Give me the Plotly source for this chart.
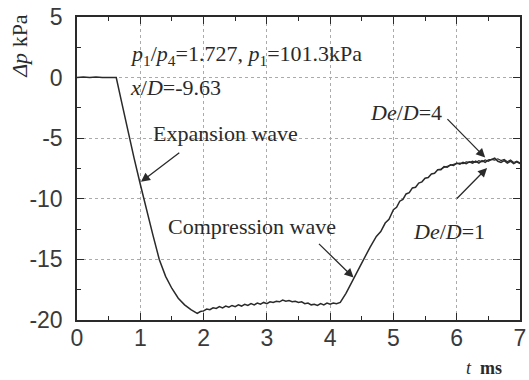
import plotly.graph_objects as go

# ---- data ----
t_ms = [0, 0.1, 0.2, 0.3, 0.4, 0.5, 0.62,
        0.7, 0.8, 0.9, 1.0, 1.1, 1.2, 1.3, 1.4, 1.5, 1.6, 1.7, 1.8, 1.9,
        1.95, 2.0, 2.05, 2.1, 2.15, 2.2, 2.25, 2.3, 2.35, 2.4, 2.45, 2.5, 2.55, 2.6, 2.65,
        2.7, 2.75, 2.8, 2.85, 2.9, 2.95, 3.0, 3.05, 3.1, 3.15, 3.2, 3.25, 3.3, 3.35, 3.4,
        3.45, 3.5, 3.55, 3.6, 3.65, 3.7, 3.75, 3.8, 3.85, 3.9, 3.95, 4.0, 4.05, 4.1, 4.16,
        4.25, 4.37, 4.45, 4.53, 4.63, 4.73, 4.8, 4.87, 4.93, 5.0, 5.05, 5.1, 5.15, 5.2,
        5.25, 5.3, 5.35, 5.4, 5.45, 5.5, 5.55, 5.6, 5.65, 5.7, 5.75, 5.8, 5.85, 5.9, 5.95,
        6.0, 6.05, 6.1, 6.15, 6.2, 6.25, 6.3, 6.35, 6.4, 6.45, 6.5, 6.55, 6.6, 6.65, 6.7,
        6.75, 6.8, 6.85, 6.9, 6.95, 7.0]
dp_De1 = [0, 0.05, 0, 0.05, 0, 0, 0,
          -1.9, -4.3, -6.6, -8.8, -11.0, -13.0, -15.0, -16.4, -17.4, -18.2, -18.75, -19.15, -19.45,
          -19.3, -19.25, -19.1, -19.15, -19.0, -19.05, -18.9, -19.0, -18.85, -18.95, -18.8, -18.9,
          -18.75, -18.85, -18.7, -18.8, -18.65, -18.75, -18.6, -18.7, -18.55, -18.65, -18.5,
          -18.55, -18.45, -18.5, -18.35, -18.45, -18.4, -18.5, -18.45, -18.55, -18.5, -18.65,
          -18.6, -18.75, -18.7, -18.8, -18.65, -18.75, -18.6, -18.7, -18.6, -18.65, -18.55,
          -17.8, -16.55, -15.8, -15.0, -14.0, -13.1, -12.7, -12.0, -11.7, -10.9, -10.7, -10.2,
          -10.05, -9.6, -9.5, -9.1, -9.05, -8.7, -8.6, -8.3, -8.25, -7.95, -7.9, -7.6, -7.6,
          -7.35, -7.4, -7.2, -7.25, -7.05, -7.15, -7.0, -7.1, -6.95, -7.05, -6.9, -7.05, -6.85,
          -7.0, -6.8, -6.75, -6.65, -6.9, -7.0, -6.85, -7.05, -6.9, -7.1, -6.95, -7.1]

t_ms_De4 = [5.7, 5.75, 5.8, 5.85, 5.9, 5.95, 6.0, 6.05, 6.1, 6.15, 6.2, 6.25, 6.3, 6.35,
            6.4, 6.45, 6.5, 6.55, 6.6, 6.65, 6.7, 6.75, 6.8, 6.85, 6.9, 6.95, 7.0]
dp_De4 = [-7.6, -7.55, -7.4, -7.3, -7.25, -7.15, -7.1, -7.05, -7.1, -6.95, -7.0, -6.9, -7.0,
          -6.85, -6.95, -6.8, -6.9, -6.75, -6.8, -6.7, -6.85, -6.75, -6.95, -6.8, -7.0, -6.9, -7.05]

x_ticks = [0, 1, 2, 3, 4, 5, 6, 7]
x_ticktext = ["0", "1", "2", "3", "4", "5", "6", "7"]
y_ticks = [5, 0, -5, -10, -15, -20]
y_ticktext = ["5", "0", "-5", "-10", "-15", "-20"]

INK = "#2a2a2a"
SERIF = "Liberation Serif, Times New Roman, serif"
SANS = "Liberation Sans, Arial, sans-serif"

fig = go.Figure()
fig.add_trace(go.Scatter(x=t_ms, y=dp_De1, mode="lines",
                         line=dict(color=INK, width=1.5), showlegend=False))
fig.add_trace(go.Scatter(x=t_ms_De4, y=dp_De4, mode="lines",
                         line=dict(color=INK, width=1.2), showlegend=False))

axis_common = dict(
    showline=True, linecolor=INK, linewidth=1.5, mirror="ticks",
    ticks="inside", ticklen=7, tickwidth=1.2, tickcolor=INK,
    showgrid=True, gridcolor="#ababab", griddash="dot", gridwidth=1,
    zeroline=False, ticklabeloverflow="allow",
    tickfont=dict(family=SANS, size=23, color="#3a3a3a"),
)

fig.update_xaxes(range=[0, 7], tickvals=x_ticks, ticktext=x_ticktext,
                 minor=dict(dtick=0.5, ticks="inside", ticklen=4, tickcolor=INK, showgrid=False),
                 ticklabelstandoff=-3, **axis_common)
fig.update_yaxes(range=[-20, 5], tickvals=y_ticks, ticktext=y_ticktext,
                 minor=dict(dtick=2.5, ticks="inside", ticklen=4, tickcolor=INK, showgrid=False),
                 ticklabelstandoff=8, **axis_common)

ann_font = dict(family=SERIF, size=22, color=INK)
annotations = [
    dict(x=0.8, y=1.9, xref="x", yref="y", xanchor="left", yanchor="middle",
         text="<i>p</i><sub>1</sub>/<i>p</i><sub>4</sub>=1.727, <i>p</i><sub>1</sub>=101.3kPa",
         showarrow=False, font=ann_font),
    dict(x=0.8, y=-0.8, xref="x", yref="y", xanchor="left", yanchor="middle",
         text="<i>x</i>/<i>D</i>=-9.63", showarrow=False, font=ann_font),
    dict(x=1.17, y=-4.6, xref="x", yref="y", xanchor="left", yanchor="middle",
         text="Expansion wave", showarrow=False, font=ann_font),
    dict(x=1.4, y=-12.3, xref="x", yref="y", xanchor="left", yanchor="middle",
         text="Compression wave", showarrow=False, font=ann_font),
    dict(x=4.6, y=-2.9, xref="x", yref="y", xanchor="left", yanchor="middle",
         text="<i>De</i>/<i>D</i>=4", showarrow=False, font=ann_font),
    dict(x=5.28, y=-12.7, xref="x", yref="y", xanchor="left", yanchor="middle",
         text="<i>De</i>/<i>D</i>=1", showarrow=False, font=ann_font),
]
# arrows (tip -> tail)
arrows = [
    ((1.01, -8.6), (1.64, -6.1)),
    ((4.37, -16.5), (3.8, -13.6)),
    ((6.45, -6.6), (5.83, -3.3)),
    ((6.48, -7.45), (5.98, -10.1)),
]
for (tx, ty), (sx, sy) in arrows:
    annotations.append(dict(x=tx, y=ty, ax=sx, ay=sy, xref="x", yref="y",
                            axref="x", ayref="y", text="", showarrow=True,
                            arrowhead=2, arrowsize=1.4, arrowwidth=1.3,
                            arrowcolor=INK, standoff=0))

L, R, T, B = 77, 3, 17, 60
W, H = 529, 380
pw, ph = W - L - R, H - T - B

fig.update_layout(
    width=W, height=H,
    margin=dict(l=L, r=R, t=T, b=B),
    paper_bgcolor="white", plot_bgcolor="white",
    annotations=annotations,
)
fig.add_annotation(x=(18 - L) / pw, y=(H - B - 46) / ph, xref="paper", yref="paper",
                   text="<i>Δp</i> kPa", textangle=-90, showarrow=False,
                   xanchor="center", yanchor="middle",
                   font=dict(family=SERIF, size=22, color=INK))
fig.add_annotation(x=(490 - L) / pw, y=(H - B - 368) / ph, xref="paper", yref="paper",
                   text="<i>t</i>  <b>ms</b>", showarrow=False,
                   xanchor="center", yanchor="middle",
                   font=dict(family=SERIF, size=18, color=INK))

fig.write_html("out.html")
